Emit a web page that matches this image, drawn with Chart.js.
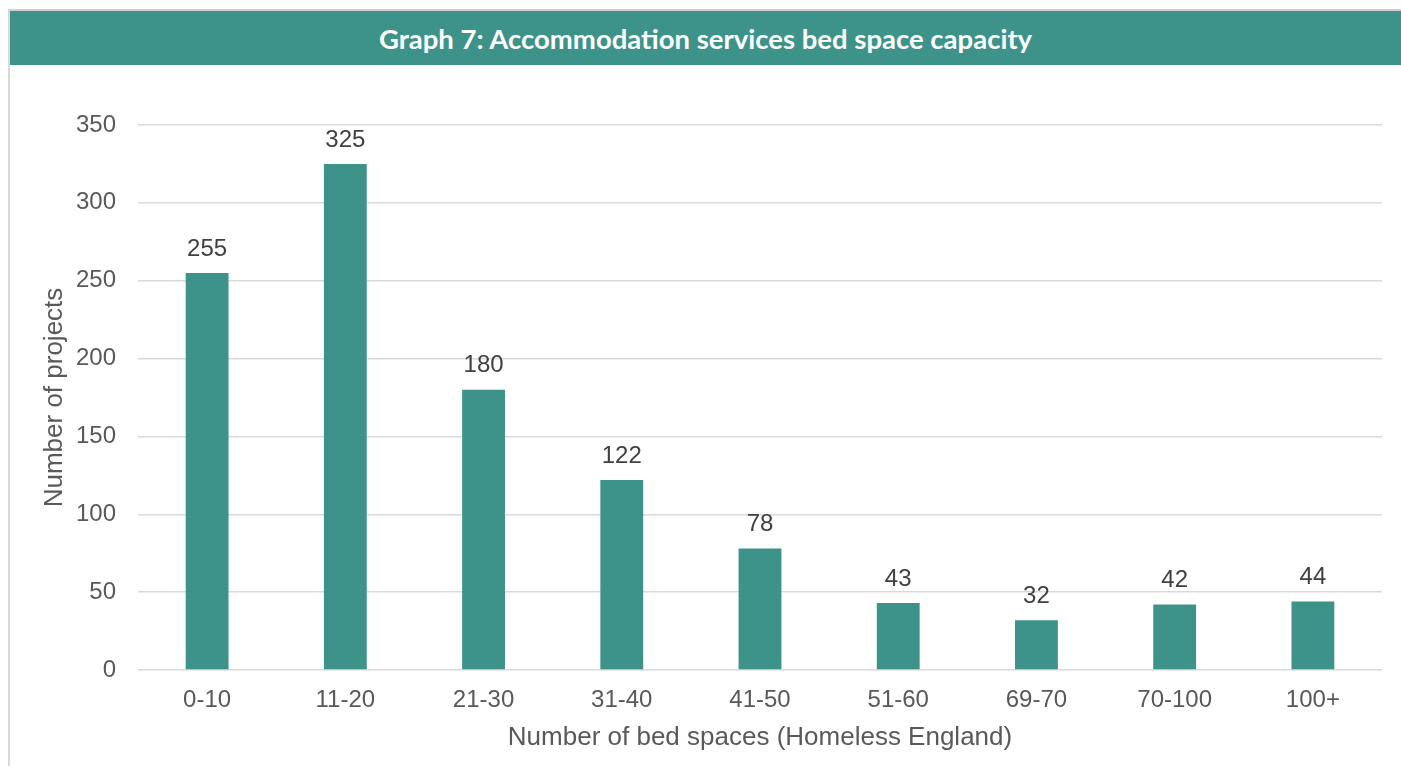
<!DOCTYPE html>
<html>
<head>
<meta charset="utf-8">
<script src="https://cdn.jsdelivr.net/npm/chart.js@4"></script>
<style>
  html, body { margin: 0; padding: 0; background: #ffffff; }
  body { width: 1401px; height: 766px; position: relative; overflow: hidden; }
  #frame { position: absolute; left: 8px; top: 9px; width: 1400px; height: 760px;
           border-left: 2px solid #d9d9d9; border-top: 2px solid #d0d0d0; box-sizing: border-box; }
  #banner { position: absolute; left: 10px; top: 11px; width: 1391px; height: 54px;
            background: #3d9389; color: #ffffff; font-family: "Lato", "Open Sans", sans-serif;
            font-weight: bold; font-size: 27.5px; line-height: 56px; text-align: center; }
  #wrap { position: absolute; left: 10px; top: 66px; width: 1391px; height: 700px; }
</style>
</head>
<body>
<div id="frame"></div>
<div id="banner">Graph 7: Accommodation services bed space capacity</div>
<div id="wrap"><canvas id="c"></canvas></div>
<script>
const categories = ["0-10", "11-20", "21-30", "31-40", "41-50", "51-60", "69-70", "70-100", "100+"];
const projectCounts = [255, 325, 180, 122, 78, 43, 32, 42, 44];
const yTickMax = 350;
const yTickStep = 50;
const xAxisTitle = "Number of bed spaces (Homeless England)";
const yAxisTitle = "Number of projects";

const barColor = "#3d9389";
const textColor = "#595959";
const fontFamily = "'Liberation Sans', Arial, sans-serif";

const valueLabels = {
  id: "valueLabels",
  afterDatasetsDraw(chart) {
    const ctx = chart.ctx;
    const meta = chart.getDatasetMeta(0);
    ctx.save();
    ctx.font = "24px " + fontFamily;
    ctx.fillStyle = "#404040";
    ctx.textAlign = "center";
    ctx.textBaseline = "bottom";
    meta.data.forEach((bar, i) => {
      ctx.fillText(String(chart.data.datasets[0].data[i]), bar.x, bar.y - 12);
    });
    ctx.restore();
  }
};

new Chart(document.getElementById("c"), {
  type: "bar",
  data: {
    labels: categories,
    datasets: [{
      data: projectCounts,
      backgroundColor: barColor,
      borderWidth: 0,
      barPercentage: 0.31,
      categoryPercentage: 1.0
    }]
  },
  options: {
    responsive: true,
    maintainAspectRatio: false,
    animation: false,
    layout: { padding: { left: 0, right: 19, top: 59, bottom: 0 } },
    plugins: { legend: { display: false }, tooltip: { enabled: false } },
    scales: {
      x: {
        grid: { display: false, drawTicks: false },
        border: { display: false },
        ticks: { color: textColor, padding: 16, font: { family: fontFamily, size: 24 } },
        title: { display: true, text: xAxisTitle, color: textColor,
                 font: { family: fontFamily, size: 26, lineHeight: 1 },
                 padding: { top: 0, bottom: 15 } },
        afterFit(scale) { scale.height = 96; }
      },
      y: {
        min: 0, max: yTickMax,
        grid: { color: "#d9d9d9", lineWidth: 1.5, drawTicks: false },
        border: { display: false },
        ticks: { stepSize: yTickStep, color: textColor, padding: 22,
                 font: { family: fontFamily, size: 24 } },
        title: { display: true, text: yAxisTitle, color: textColor,
                 font: { family: fontFamily, size: 26, lineHeight: 1 },
                 padding: { top: 32, bottom: 0 } },
        afterFit(scale) { scale.width = 128; }
      }
    }
  },
  plugins: [valueLabels]
});
</script>
</body>
</html>
